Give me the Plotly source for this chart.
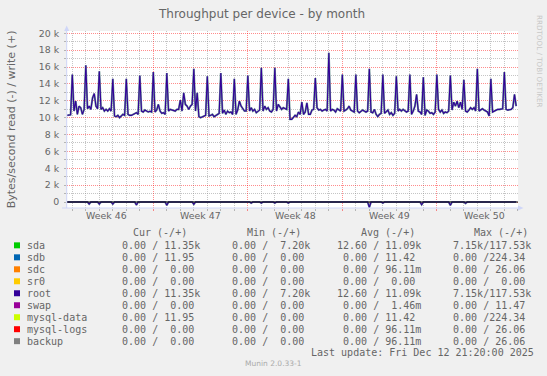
import plotly.graph_objects as go

# ---------------- data ----------------
# write throughput (bytes/s), 3-hour samples; day index 0 = first midnight shown
sample_step_days = 0.125
first_sample_day = -0.375

week46_write = [10270, 10300, 10350,
                15100, 10780, 11960, 10390, 11370, 11180, 10390, 10980,
                16200, 11060, 11370, 10980, 12350, 12860, 11370, 11060,
                15500, 10980, 11180, 10780, 10980, 10780, 11060, 10780,
                14600, 10200, 10120, 10270, 10000, 10200, 10390, 10270,
                14600, 10390, 10270, 10270, 10390, 10510, 10590, 10390,
                15000, 10780, 10670, 10900, 10780, 10670, 10750, 10670]
week47_write = [15400, 10670, 10900, 11570, 10780, 10510, 10590, 10390,
                15300, 10780, 10980, 10900, 10900, 10780, 10980, 10980,
                12080, 10780, 12940, 11570, 11370, 10980, 11370, 11570,
                15800, 10780, 12940, 10120, 10000, 10120, 10200, 10270,
                14900, 10200, 10270, 10390, 10120, 10270, 10390, 10510,
                15300, 10510, 10900, 10390, 10780, 10590, 10670, 10390,
                14600, 10390, 10900, 11960, 11370, 10980, 10780, 10780]
week48_write = [15000, 10780, 11180, 10780, 10980, 10590, 10780, 10900,
                15900, 10780, 11370, 10980, 11180, 10780, 10670, 10980,
                15900, 10780, 11570, 11180, 10980, 11180, 11060, 10980,
                14600, 9800, 9800, 10000, 10270, 10120, 10670, 10390,
                11840, 10390, 10670, 11760, 10390, 10390, 10900, 10980,
                14700, 11180, 10900, 10980, 10780, 10900, 10980, 10780,
                17700, 10780, 10980, 10900, 10670, 11060, 10900, 10780]
week49_write = [15100, 10780, 10900, 11060, 11370, 10900, 10780, 10670,
                15100, 10780, 10590, 10780, 10900, 10780, 10670, 10780,
                15800, 10670, 10590, 10980, 10390, 10120, 10390, 10510,
                15100, 10510, 10670, 10900, 10390, 10590, 10270, 10510,
                14900, 10780, 10980, 10780, 10980, 10780, 10670, 10780,
                15100, 10390, 10780, 11370, 12750, 10780, 10670, 10390,
                14800, 10270, 10900, 10780, 10510, 10590, 10390, 10670]
week50_write = [15100, 10980, 10670, 10900, 10510, 10670, 10590, 10780,
                15000, 10900, 11840, 11370, 11960, 11180, 11840, 10980,
                14500, 10780, 10670, 10900, 11180, 10980, 11180, 10780,
                15800, 10780, 10980, 11060, 10900, 10780, 10670, 10200,
                14600, 10670, 10780, 10900, 10980, 10980, 10980, 11060,
                15400, 10980, 10900, 10980, 10980, 11180, 12750, 11370]

# read throughput dips (drawn negative), all other samples are 0
read_dip_days = [1.25, 2.0, 3.0, 4.75, 6.25, 7.0, 9.0, 10.0, 13.25, 14.0,
                 15.0, 16.0, 22.0, 23.0, 25.875, 28.0, 29.125]
read_dip_values = [-240, -240, -240, -355, -80, -390, -275, -80, -120, -120,
                   -120, -120, -630, -120, -315, -390, -160]

week_boundaries = [6, 13, 20, 27]
week_label_days = [2.5, 9.5, 16.5, 23.5, 30.5]
week_labels = ["Week 46", "Week 47", "Week 48", "Week 49", "Week 50"]

y_tick_values = [0, 2000, 4000, 6000, 8000, 10000, 12000, 14000, 16000, 18000, 20000]
y_tick_labels = ["0", "2 k", "4 k", "6 k", "8 k", "10 k", "12 k", "14 k", "16 k", "18 k", "20 k"]

devices = ["sda", "sdb", "sdc", "sr0", "root", "swap", "mysql-data", "mysql-logs", "backup"]
device_colors = ["#00CC00", "#0066B3", "#FF8000", "#FFCC00", "#330099",
                 "#990099", "#CCFF00", "#FF0000", "#808080"]
cur_read = ["0.00"] * 9
cur_write = ["11.35k", "11.95", "0.00", "0.00", "11.35k", "0.00", "11.95", "0.00", "0.00"]
min_read = ["0.00"] * 9
min_write = ["7.20k", "0.00", "0.00", "0.00", "7.20k", "0.00", "0.00", "0.00", "0.00"]
avg_read = ["12.60", "0.00", "0.00", "0.00", "12.60", "0.00", "0.00", "0.00", "0.00"]
avg_write = ["11.09k", "11.42", "96.11m", "0.00", "11.09k", "1.46m", "11.42", "96.11m", "96.11m"]
max_read = ["7.15k", "0.00", "0.00", "0.00", "7.15k", "0.00", "0.00", "0.00", "0.00"]
max_write = ["117.53k", "224.34", "26.06", "0.00", "117.53k", "11.47", "224.34", "26.06", "26.06"]

# ---------------- layout constants ----------------
W, H = 547, 376
L, R, T, B = 67, 518, 31, 208.3
X_RANGE = [-0.393, 33.01]
Y_RANGE = [-710, 20272]
FONT = "DejaVu Sans"
MONO = "DejaVu Sans Mono"
TXT = "#666666"
AXIS_C = "#CFD6F8"


def px_x(px):
    return (px - L) / (R - L)


def px_y(py):
    return (B - py) / (B - T)


write = week46_write + week47_write + week48_write + week49_write + week50_write
times = [first_sample_day + i * sample_step_days for i in range(len(write))]
dips = {round(d, 3): v for d, v in zip(read_dip_days, read_dip_values)}
read = [dips.get(round(t, 3), 0) for t in times]

fig = go.Figure()
# sda underneath, root (indigo) on top with identical values
for series in (write, read):
    fig.add_trace(go.Scatter(x=times, y=series, mode="lines",
                             line=dict(color="#6F9896", width=2.0),
                             hoverinfo="skip"))
for series in (write, read):
    fig.add_trace(go.Scatter(x=times, y=series, mode="lines",
                             line=dict(color="#330099", width=1.1),
                             hoverinfo="skip"))

minor_days = [d for d in range(0, 34) if d not in week_boundaries]

fig.update_xaxes(range=X_RANGE, tickmode="array", tickvals=week_boundaries,
                 showticklabels=False, showgrid=True,
                 gridcolor="rgba(255,0,0,0.45)", griddash="1px,1px", gridwidth=1,
                 ticks="outside", ticklen=2, tickcolor="rgba(255,0,0,0.45)",
                 zeroline=False, showline=False,
                 minor=dict(tickmode="array", tickvals=minor_days, showgrid=True,
                            gridcolor="rgba(140,140,140,0.5)", griddash="1px,1px",
                            ticks="outside", ticklen=2,
                            tickcolor="rgba(140,140,140,0.6)"))
fig.update_yaxes(range=Y_RANGE, tickmode="array", tickvals=y_tick_values,
                 ticktext=y_tick_labels, showgrid=True,
                 gridcolor="rgba(255,0,0,0.45)", griddash="1px,1px",
                 ticks="outside", ticklen=2, tickcolor="rgba(140,140,140,0.6)",
                 ticklabelstandoff=3,
                 tickfont=dict(family=FONT, size=9.4, color=TXT),
                 zeroline=False, showline=False,
                 minor=dict(tickmode="array",
                            tickvals=[1000 + 2000 * k for k in range(10)],
                            showgrid=True, gridcolor="rgba(140,140,140,0.5)",
                            griddash="1px,1px", ticks="outside", ticklen=2,
                            tickcolor="rgba(140,140,140,0.6)"))

shapes = []
# zero line
shapes.append(dict(type="line", xref="paper", yref="y", x0=0, x1=1, y0=0, y1=0,
                   line=dict(color="#000000", width=1), layer="above"))
# axes + arrows
shapes.append(dict(type="line", xref="paper", yref="paper",
                   x0=px_x(66.7), x1=px_x(66.7), y0=px_y(B), y1=px_y(29),
                   line=dict(color=AXIS_C, width=1), layer="above"))
shapes.append(dict(type="line", xref="paper", yref="paper",
                   x0=px_x(62), x1=px_x(519), y0=px_y(B), y1=px_y(B),
                   line=dict(color=AXIS_C, width=1), layer="above"))
shapes.append(dict(type="path", xref="paper", yref="paper", layer="above",
                   path=f"M {px_x(66.7)} {px_y(25.5)} L {px_x(64.2)} {px_y(31)} "
                        f"L {px_x(69.2)} {px_y(31)} Z",
                   fillcolor=AXIS_C, line=dict(width=0)))
shapes.append(dict(type="path", xref="paper", yref="paper", layer="above",
                   path=f"M {px_x(523.5)} {px_y(B)} L {px_x(518)} {px_y(B - 2.5)} "
                        f"L {px_x(518)} {px_y(B + 2.5)} Z",
                   fillcolor=AXIS_C, line=dict(width=0)))

annotations = []


def text(px, py, s, size, family=FONT, color=TXT, anchor="left", angle=0):
    annotations.append(dict(xref="paper", yref="paper", x=px_x(px), y=px_y(py),
                            text=s.replace(" ", "\u00a0"), showarrow=False,
                            xanchor=anchor, yanchor="middle", textangle=angle,
                            borderpad=0, borderwidth=0,
                            font=dict(family=family, size=size, color=color)))


# title and side texts
text(261, 13.7, "Throughput per device - by month", 12, anchor="center")
text(11.5, 120, "Bytes/second read (-) / write (+)", 11, anchor="center", angle=-90)
text(539, 61, "RRDTOOL / TOBI OETIKER", 7.2, color="#C8C8C8", anchor="center", angle=90)

# week labels
for d, lab in zip(week_label_days, week_labels):
    annotations.append(dict(xref="x", yref="paper", x=d, y=px_y(216), text=lab,
                            showarrow=False, xanchor="center", yanchor="middle",
                            borderpad=0, font=dict(family=FONT, size=9.4, color=TXT)))


def field(rd, wr):
    def split(v):
        return (v[:-1], v[-1]) if v[-1] in "km" else (v, " ")
    rn, rs = split(rd)
    wn, ws = split(wr)
    return f"{rn:>6}{rs}/{wn:>6}{ws}"


# legend header
for hx, h in zip([133.3, 247.3, 360.7, 474.0],
                 ["Cur (-/+)", "Min (-/+)", "Avg (-/+)", "Max (-/+)"]):
    text(hx, 233.3, h, 10, family=MONO)

field_x = [109.6, 219.6, 330.6, 440.6]
for i, name in enumerate(devices):
    ry = 245.7 + 12 * i
    shapes.append(dict(type="rect", xref="paper", yref="paper",
                       x0=px_x(14), x1=px_x(20), y0=px_y(ry - 3), y1=px_y(ry + 3),
                       fillcolor=device_colors[i], line=dict(width=0), layer="above"))
    text(26.7, ry, name, 10, family=MONO)
    cols = [field(cur_read[i], cur_write[i]), field(min_read[i], min_write[i]),
            field(avg_read[i], avg_write[i]), field(max_read[i], max_write[i])]
    for fx, s in zip(field_x, cols):
        text(fx, ry, s, 10, family=MONO)

text(533.5, 353.3, "Last update: Fri Dec 12 21:20:00 2025", 10, family=MONO, anchor="right")
text(273.5, 364.5, "Munin 2.0.33-1", 7.5, color="#AAAAAA", anchor="center")

fig.update_layout(width=W, height=H, showlegend=False,
                  paper_bgcolor="#F0F0F0", plot_bgcolor="#FFFFFF",
                  margin=dict(l=L, r=W - R, t=T, b=H - B, pad=0),
                  shapes=shapes, annotations=annotations)

fig.write_html("out.html",
               config={"displayModeBar": False},
               post_script="document.body.style.margin='0';"
                           "document.body.style.padding='0';"
                           "document.body.style.background='#F0F0F0';")
